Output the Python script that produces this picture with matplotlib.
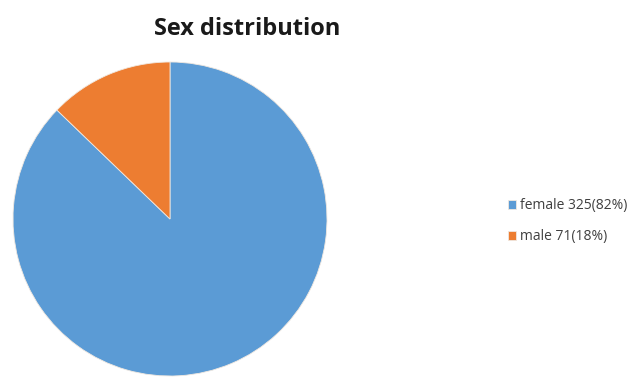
import matplotlib.pyplot as plt

# data
sexes = ["female", "male"]
counts = [325, 71]
pcts = [82, 18]
# slice shares as drawn in the reference (the drawn wedge is smaller than 18%)
slice_shares = [87.2, 12.8]
colors = ["#5b9bd5", "#ed7d31"]

labels = [f"{s} {c}({p}%)" for s, c, p in zip(sexes, counts, pcts)]

fig = plt.figure(figsize=(6.39, 3.78), dpi=100)

ax = fig.add_axes([13/639, 2/378, 314/639, 314/378])
wedges, _ = ax.pie(slice_shares, colors=colors, startangle=90, counterclock=False,
                   radius=1, wedgeprops=dict(linewidth=0.6, edgecolor="#f0e8e0"))
ax.set_xlim(-1.0, 1.0)
ax.set_ylim(-1.0, 1.0)

fig.text(247/639, 1 - 29/378, "Sex distribution", ha="center", va="center",
         fontsize=17, fontweight="bold", family="Open Sans", color="#1a1a1a")

leg = fig.legend(wedges, labels, loc="center left",
                 bbox_to_anchor=(495/639, 1 - 221/378), frameon=False,
                 handlelength=0.6, handleheight=0.6,
                 handletextpad=0.3, labelspacing=1.15,
                 prop=dict(family="Open Sans", size=10))
for t in leg.get_texts():
    t.set_color("#404040")

fig.savefig("out.png", dpi=100)
